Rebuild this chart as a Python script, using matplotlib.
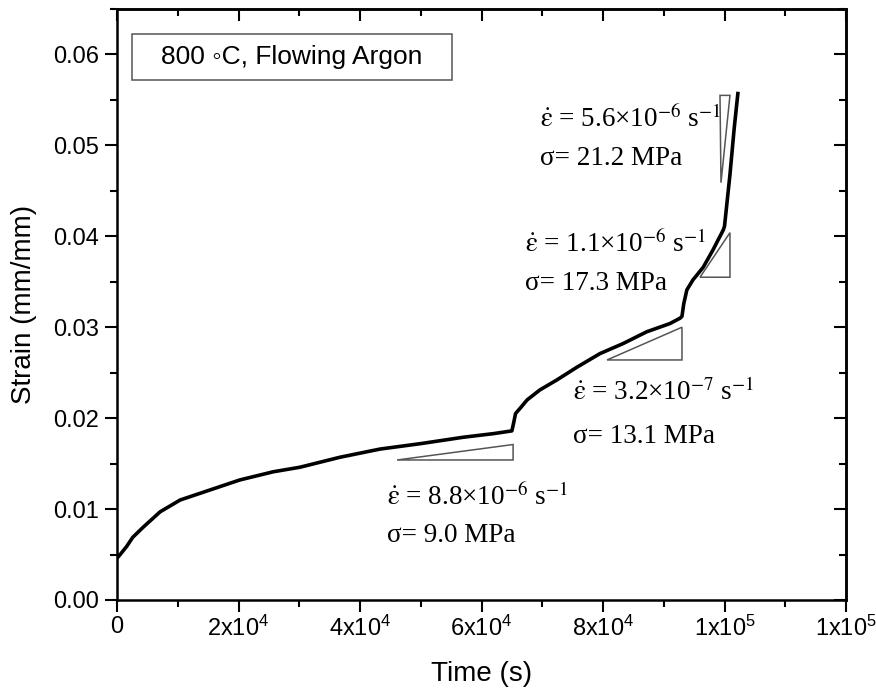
import matplotlib
matplotlib.use("Agg")
import matplotlib.pyplot as plt
from matplotlib.patches import Rectangle, Polygon
from matplotlib.ticker import MultipleLocator, FixedLocator, FixedFormatter

plt.rcParams['font.family'] = ['Liberation Sans', 'DejaVu Sans']
plt.rcParams['mathtext.fontset'] = 'custom'
plt.rcParams['mathtext.rm'] = 'Liberation Sans'
plt.rcParams['mathtext.it'] = 'Liberation Sans:italic'
plt.rcParams['mathtext.bf'] = 'Liberation Sans:bold'

# ---- data ----
time_s = [0, 400, 1600, 2600, 4300, 7100, 10400, 15300, 20200, 25700, 30100,
          36700, 43300, 50000, 57000, 62000, 65000, 65300, 65600, 66500, 67500,
          69600, 72400, 75700, 79500, 83300, 87200, 91000, 92700, 93000, 93300,
          93800, 94800, 96500, 98100, 99800, 100000, 100900, 101600, 102200]
strain = [0.0046, 0.0049, 0.0059, 0.0069, 0.0080, 0.0097, 0.0110, 0.0121, 0.0132,
          0.0141, 0.0146, 0.0157, 0.0166, 0.0172, 0.0179, 0.0183, 0.0186, 0.0195,
          0.0205, 0.0212, 0.0220, 0.0231, 0.0242, 0.0256, 0.0271, 0.0282, 0.0295,
          0.0304, 0.0310, 0.0312, 0.0326, 0.0341, 0.0352, 0.0366, 0.0385, 0.0407,
          0.0411, 0.0468, 0.0519, 0.0557]

# slope triangles (time, strain)
tri1_t = [46100, 65200, 65200]
tri1_s = [0.0154, 0.0154, 0.0171]
tri2_t = [80660, 93000, 93000]
tri2_s = [0.0264, 0.0264, 0.0300]
tri3_t = [95970, 100900, 100900]
tri3_s = [0.0355, 0.0355, 0.0404]
tri4_t = [99260, 100900, 99420]
tri4_s = [0.0555, 0.0555, 0.0459]

# annotations
rate_labels = [r'$\dot{\mathrm{\varepsilon}}$ = 5.6×10$^{-6}$ s$^{-1}$',
               r'$\dot{\mathrm{\varepsilon}}$ = 1.1×10$^{-6}$ s$^{-1}$',
               r'$\dot{\mathrm{\varepsilon}}$ = 3.2×10$^{-7}$ s$^{-1}$',
               r'$\dot{\mathrm{\varepsilon}}$ = 8.8×10$^{-6}$ s$^{-1}$']
stress_labels = ['σ= 21.2 MPa', 'σ= 17.3 MPa', 'σ= 13.1 MPa', 'σ= 9.0 MPa']
label_t = [69630, 67160, 75060, 44440]
rate_s = [0.05198, 0.03824, 0.02198, 0.01044]
stress_s = [0.04780, 0.03407, 0.01725, 0.00637]

x_ticks = [0, 20000, 40000, 60000, 80000, 100000, 120000]
x_tick_labels = ['0', r'2x10$^4$', r'4x10$^4$', r'6x10$^4$', r'8x10$^4$',
                 r'1x10$^5$', r'1x10$^5$']
y_ticks = [0.00, 0.01, 0.02, 0.03, 0.04, 0.05, 0.06]
y_tick_labels = ['0.00', '0.01', '0.02', '0.03', '0.04', '0.05', '0.06']

box_text = '800 \u25e6C, Flowing Argon'

# ---- figure ----
W, H = 876, 692
fig = plt.figure(figsize=(W / 100, H / 100), dpi=100)
L, R, T, B = 117, 846, 9, 600
ax = fig.add_axes([L / W, (H - B) / H, (R - L) / W, (B - T) / H])

ax.plot(time_s, strain, color='black', lw=2.6, solid_joinstyle='round')

for tt, ss in [(tri1_t, tri1_s), (tri2_t, tri2_s), (tri3_t, tri3_s), (tri4_t, tri4_s)]:
    ax.add_patch(Polygon(list(zip(tt, ss)), closed=True, fill=False,
                         edgecolor='#555555', lw=1.1))

for lbl, st, t, rs, ss in zip(rate_labels, stress_labels, label_t, rate_s, stress_s):
    ax.text(t, rs, lbl, fontsize=19.5, family=['Liberation Serif', 'DejaVu Serif'],
            math_fontfamily='stix', va='baseline', ha='left')
    ax.text(t, ss, st, fontsize=19.5, family=['Liberation Serif', 'DejaVu Serif'],
            va='baseline', ha='left')

ax.set_xlim(0, 120000)
ax.set_ylim(0, 0.065)

ax.xaxis.set_major_locator(FixedLocator(x_ticks))
ax.xaxis.set_major_formatter(FixedFormatter(x_tick_labels))
ax.xaxis.set_minor_locator(MultipleLocator(10000))
ax.yaxis.set_major_locator(FixedLocator(y_ticks))
ax.yaxis.set_major_formatter(FixedFormatter(y_tick_labels))
ax.yaxis.set_minor_locator(MultipleLocator(0.005))

ax.tick_params(which='major', direction='out', length=8.6, width=1.5,
               labelsize=17, pad=4)
ax.tick_params(which='minor', direction='out', length=5, width=1.5)
ax.tick_params(axis='x', which='major', pad=3)

for sp in ax.spines.values():
    sp.set_linewidth(1.8)

# top / right inward ticks
secx = ax.secondary_xaxis('top')
secx.xaxis.set_major_locator(FixedLocator(x_ticks))
secx.xaxis.set_minor_locator(MultipleLocator(10000))
secx.tick_params(which='major', direction='in', length=8.6, width=1.5, labeltop=False)
secx.tick_params(which='minor', direction='in', length=5, width=1.5)
secx.spines['top'].set_linewidth(1.8)
secy = ax.secondary_yaxis('right')
secy.yaxis.set_major_locator(FixedLocator(y_ticks))
secy.yaxis.set_minor_locator(MultipleLocator(0.005))
secy.tick_params(which='major', direction='in', length=8.6, width=1.5, labelright=False)
secy.tick_params(which='minor', direction='in', length=5, width=1.5)
secy.spines['right'].set_linewidth(1.8)

ax.set_xlabel('Time (s)', fontsize=20, labelpad=14)
ax.set_ylabel('Strain (mm/mm)', fontsize=20, labelpad=12)

# label box
bx0 = (132 - L) / (R - L)
bx1 = (452 - L) / (R - L)
by0 = (B - 80) / (B - T)
by1 = (B - 34) / (B - T)
ax.add_patch(Rectangle((bx0, by0), bx1 - bx0, by1 - by0, transform=ax.transAxes,
                       fill=True, facecolor='white', edgecolor='#555555', lw=1.1,
                       zorder=3))
ax.text((bx0 + bx1) / 2, (by0 + by1) / 2, box_text, transform=ax.transAxes,
        fontsize=19, ha='center', va='center', zorder=4)

fig.savefig('out.png', dpi=100)
